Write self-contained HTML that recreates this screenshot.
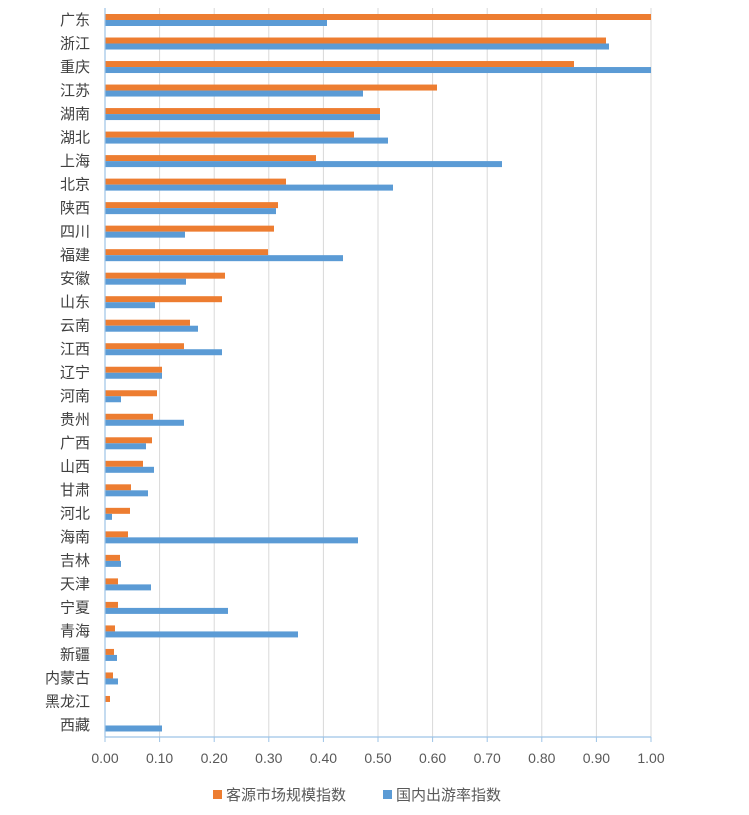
<!DOCTYPE html>
<html><head><meta charset="utf-8"><style>
html,body{margin:0;padding:0;background:#fff;}
svg{display:block;font-family:"Liberation Sans","Noto Sans CJK SC",sans-serif;}
</style></head><body>
<svg width="749" height="815" viewBox="0 0 749 815" xmlns="http://www.w3.org/2000/svg">
<g id="grid" stroke="#d9d9d9" stroke-width="1"></g>
<g id="bars"></g>
<line x1="105" y1="8" x2="105" y2="737" stroke="#9dc3e6" stroke-width="1.2"/>
<line x1="105" y1="737" x2="651" y2="737" stroke="#9dc3e6" stroke-width="1.2"/>
<g id="ticks" stroke="#9dc3e6" stroke-width="1"></g>
<g id="labels" font-size="15" fill="#404040" text-anchor="end"></g>
<g id="tl" font-size="14" fill="#595959" text-anchor="middle"></g>
<rect x="213" y="790" width="9" height="9" fill="#ED7D31"/>
<text x="226" y="800" font-size="15" fill="#595959">客源市场规模指数</text>
<rect x="383" y="790" width="9" height="9" fill="#5B9BD5"/>
<text x="396" y="800" font-size="15" fill="#595959">国内出游率指数</text>
</svg>
<script>
var d=[["广东",651,327],["浙江",606,609],["重庆",574,651],["江苏",437,363],["湖南",380,380],["湖北",354,388],["上海",316,502],["北京",286,393],["陕西",278,276],["四川",274,185],["福建",268,343],["安徽",225,186],["山东",222,155],["云南",190,198],["江西",184,222],["辽宁",162,162],["河南",157,121],["贵州",153,184],["广西",152,146],["山西",143,154],["甘肃",131,148],["河北",130,112],["海南",128,358],["吉林",120,121],["天津",118,151],["宁夏",118,228],["青海",115,298],["新疆",114,117],["内蒙古",113,118],["黑龙江",110,0],["西藏",0,162]];
var ns="http://www.w3.org/2000/svg",b=document.getElementById("bars"),l=document.getElementById("labels"),t=document.getElementById("ticks"),g=document.getElementById("grid"),tl=document.getElementById("tl");
var rh=729/31;
function r(x,y,w,h,c){var e=document.createElementNS(ns,"rect");e.setAttribute("x",x);e.setAttribute("y",y);e.setAttribute("width",w);e.setAttribute("height",h);e.setAttribute("fill",c);b.appendChild(e);}
d.forEach(function(v,i){var y=8+i*rh;
if(v[1]>105)r(105,y+6,v[1]-105,6,"#ED7D31");
if(v[2]>105)r(105,y+12,v[2]-105,6,"#5B9BD5");
var tx=document.createElementNS(ns,"text");tx.setAttribute("x",90);tx.setAttribute("y",y+rh/2+5);tx.textContent=v[0];l.appendChild(tx);});
for(var k=0;k<=10;k++){var x=105+k*54.6;
var e=document.createElementNS(ns,"line");e.setAttribute("x1",x);e.setAttribute("x2",x);e.setAttribute("y1",737);e.setAttribute("y2",742);t.appendChild(e);
if(k>0){var gl=document.createElementNS(ns,"line");gl.setAttribute("x1",x);gl.setAttribute("x2",x);gl.setAttribute("y1",8);gl.setAttribute("y2",737);g.appendChild(gl);}
var tt=document.createElementNS(ns,"text");tt.setAttribute("x",x);tt.setAttribute("y",763);tt.textContent=(k/10).toFixed(2);tl.appendChild(tt);}
</script>
</body></html>
